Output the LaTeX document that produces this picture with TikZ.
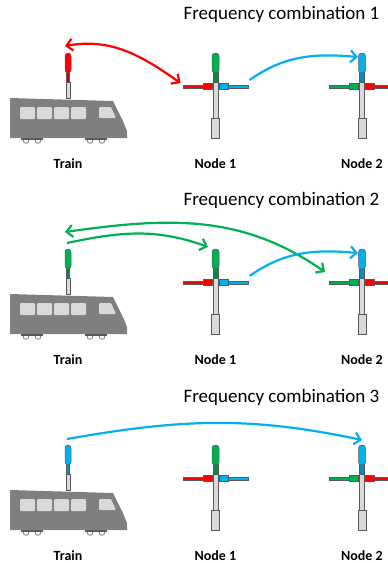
\documentclass[tikz,border=0pt]{standalone}
\usepackage{fontspec}
\setmainfont{Carlito}
\usetikzlibrary{arrows.meta}
\definecolor{sigred}{RGB}{255,0,0}
\definecolor{siggreen}{RGB}{0,176,80}
\definecolor{sigblue}{RGB}{0,176,240}
\definecolor{bodygray}{RGB}{127,127,127}
\definecolor{pale}{RGB}{217,217,217}
\definecolor{edge}{RGB}{89,89,89}

\begin{document}
\begin{tikzpicture}[x=1pt,y=1pt]
\tikzstyle{every node}+=[inner sep=0pt]
\tikzstyle{mastpart}=[draw=edge, line width=0.5pt]
\tikzstyle{link}=[line width=2.2pt, >={Straight Barb[length=6pt,width=12pt]}]
\tikzstyle{heading}=[anchor=base east, font=\fontsize{19}{22}\selectfont]
\tikzstyle{unitname}=[anchor=base, font=\bfseries\fontsize{14}{16}\selectfont]
\clip (0,0) rectangle (388,-563);
\foreach \p/\col/\ty in {1/sigred/19, 2/siggreen/205, 3/sigblue/402} {
\node [heading] (heading\p) at (379.5,-\ty) {Frequency combination \p};
\begin{scope}[yshift=-196*(\p-1)]
% train: wheels, body, windows
\foreach \wx in {26,38,90,102}
  \draw [edge, fill=white, line width=0.6pt] (\wx,-140.5) circle (2.8);
\fill [edge] (21,-137) rectangle (43,-139.5);
\fill [edge] (85,-137) rectangle (107,-139.5);
\fill [bodygray] (10,-98) -- (113,-101) -- (123,-121) -- (127,-131) -- (127,-138) -- (10,-138) -- cycle;
\foreach \wx in {20,37,54,71}
  \fill [pale, rounded corners=1pt] (\wx,-107) rectangle +(15,-12);
\fill [pale, rounded corners=1pt] (99,-107) -- (111,-107) -- (116,-118) -- (99,-118) -- cycle;
% aerial on the roof
\draw [mastpart, fill=pale] (66,-82) rectangle (70,-98);
\draw [mastpart, fill=\col!80!black] (66.3,-72) rectangle (69.7,-82);
\draw [mastpart, fill=\col, rounded corners=3pt] (65,-53) rectangle (71,-73);
\coordinate (aerial-\p) at (68,-53);
\node [unitname] (train-\p) at (68,-168) {Train};
% the two masts
\foreach \m/\cx/\top/\lft/\rgt in {1/215.5/siggreen/sigred/sigblue, 2/362/sigblue/siggreen/sigred} {
  \draw [mastpart, fill=pale] (\cx-2.5,-82) rectangle (\cx+2.5,-118);
  \draw [mastpart, fill=pale] (\cx-4,-118) rectangle (\cx+4,-138);
  \draw [mastpart, fill=\lft] (\cx-32.5,-85) rectangle (\cx-12.5,-88);
  \draw [mastpart, fill=\lft] (\cx-12.5,-83) rectangle (\cx-3.5,-89);
  \draw [mastpart, fill=\rgt] (\cx+3.5,-83) rectangle (\cx+12.5,-89);
  \draw [mastpart, fill=\rgt] (\cx+12.5,-85) rectangle (\cx+32.5,-88);
  \draw [mastpart, fill=\top!80!black] (\cx-2.3,-72) rectangle (\cx+2.3,-82);
  \draw [mastpart, fill=\top, rounded corners=3pt] (\cx-3.5,-53) rectangle (\cx+3.5,-73);
  \coordinate (top-\m-\p) at (\cx,-53);
  \coordinate (left-\m-\p) at (\cx-32.5,-86.5);
  \coordinate (right-\m-\p) at (\cx+32.5,-86.5);
  \node [unitname] (name-\m-\p) at (\cx,-168) {Node \m};
}
\end{scope}
}
% links, first combination
\draw [link, sigred, <->] ([shift={(-3,7)}]aerial-1) to[out=10,in=145] ([shift={(-2.5,3.5)}]left-1-1);
\draw [link, sigblue, ->] ([shift={(1.5,6.5)}]right-1-1) to[out=35,in=175] ([shift={(-4,-4)}]top-2-1);
% second combination
\draw [link, siggreen, <->] ([shift={(-3,17)}]aerial-2) to[out=8,in=145] ([shift={(-4.5,10.5)}]left-2-2);
\draw [link, siggreen, ->] ([shift={(-1,6)}]aerial-2) to[out=12,in=160] ([shift={(-7.5,2)}]top-1-2);
\draw [link, sigblue, ->] ([shift={(1.5,6.5)}]right-1-2) to[out=35,in=175] ([shift={(-4,-4)}]top-2-2);
% third combination
\draw [link, sigblue, ->] ([shift={(-1,6)}]aerial-3) to[out=10,in=168] ([shift={(0,5)}]top-2-3);
\end{tikzpicture}
\end{document}
